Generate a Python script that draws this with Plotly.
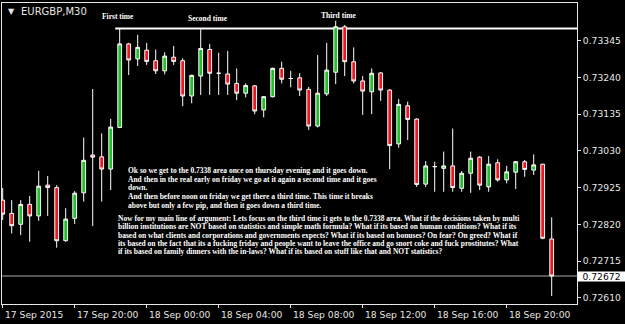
import plotly.graph_objects as go
import pandas as pd

# ---------------- data (EURGBP, M30) ----------------
bar_start = "2015-09-17 16:00"
opens = [0.72889, 0.72851, 0.72820, 0.72877, 0.72844, 0.72932, 0.72925, 0.72773, 0.72837, 0.72910,
         0.73018, 0.73013, 0.72978, 0.73097, 0.73336, 0.73293, 0.73318, 0.73288, 0.73259, 0.73298,
         0.73288, 0.73187, 0.73244, 0.73320, 0.73252, 0.73250, 0.73223, 0.73195, 0.73216, 0.73147,
         0.73185, 0.73266, 0.73237, 0.73239, 0.73206, 0.73101, 0.73193, 0.73255, 0.73385, 0.73285,
         0.73230, 0.73199, 0.73253, 0.73204, 0.73050, 0.73159, 0.73121, 0.72935, 0.72985, 0.72980,
         0.72987, 0.72923, 0.72966, 0.73012, 0.72927, 0.72996, 0.72947, 0.72969, 0.72999, 0.72975,
         0.72992, 0.72778]
highs = [0.72924, 0.72889, 0.72889, 0.72901, 0.72973, 0.72958, 0.72932, 0.72866, 0.72915, 0.73068,
         0.73207, 0.73080, 0.73122, 0.73380, 0.73339, 0.73362, 0.73339, 0.73320, 0.73312, 0.73330,
         0.73295, 0.73248, 0.73378, 0.73336, 0.73311, 0.73316, 0.73266, 0.73223, 0.73218, 0.73187,
         0.73268, 0.73285, 0.73259, 0.73252, 0.73213, 0.73304, 0.73339, 0.73402, 0.73390, 0.73326,
         0.73244, 0.73266, 0.73255, 0.73206, 0.73178, 0.73171, 0.73123, 0.73001, 0.72999, 0.73028,
         0.73094, 0.72972, 0.73028, 0.73015, 0.73015, 0.73006, 0.72987, 0.73001, 0.73004, 0.73020,
         0.72993, 0.72840]
lows = [0.72832, 0.72794, 0.72789, 0.72770, 0.72830, 0.72844, 0.72753, 0.72770, 0.72821, 0.72885,
        0.72815, 0.72885, 0.72918, 0.73095, 0.73247, 0.73273, 0.73276, 0.73250, 0.73249, 0.73276,
        0.73158, 0.73166, 0.73190, 0.73190, 0.73190, 0.73190, 0.73175, 0.73183, 0.73135, 0.73126,
        0.73183, 0.73223, 0.73212, 0.73187, 0.73090, 0.73097, 0.73187, 0.73221, 0.73244, 0.73223,
        0.73133, 0.73135, 0.73173, 0.72978, 0.73039, 0.73061, 0.72927, 0.72927, 0.72913, 0.72913,
        0.72913, 0.72913, 0.72910, 0.72918, 0.72913, 0.72942, 0.72937, 0.72921, 0.72956, 0.72961,
        0.72777, 0.72615]
closes = [0.72849, 0.72816, 0.72877, 0.72844, 0.72929, 0.72925, 0.72773, 0.72835, 0.72909, 0.73003,
          0.73012, 0.72978, 0.73098, 0.73336, 0.73290, 0.73326, 0.73286, 0.73259, 0.73301, 0.73286,
          0.73187, 0.73246, 0.73323, 0.73252, 0.73252, 0.73221, 0.73195, 0.73217, 0.73144, 0.73185,
          0.73266, 0.73235, 0.73237, 0.73204, 0.73101, 0.73195, 0.73261, 0.73385, 0.73285, 0.73230,
          0.73201, 0.73252, 0.73204, 0.73045, 0.73163, 0.73120, 0.72934, 0.72987, 0.72985, 0.72987,
          0.72925, 0.72966, 0.73009, 0.72932, 0.72992, 0.72947, 0.72970, 0.72999, 0.72977, 0.72990,
          0.72780, 0.72672]

x_tick_times = ["2015-09-17 16:00", "2015-09-17 20:00", "2015-09-18 00:00", "2015-09-18 04:00",
                "2015-09-18 08:00", "2015-09-18 12:00", "2015-09-18 16:00", "2015-09-18 20:00"]
x_tick_labels = ["17 Sep 2015", "17 Sep 20:00", "18 Sep 00:00", "18 Sep 04:00",
                 "18 Sep 08:00", "18 Sep 12:00", "18 Sep 16:00", "18 Sep 20:00"]
y_ticks = [0.72610, 0.72715, 0.72820, 0.72925, 0.73030, 0.73135, 0.73240, 0.73345]

resistance_level = 0.7338
resistance_from = "2015-09-17 22:15"
current_price = 0.72672

x_range = ["2015-09-17 15:57:40", "2015-09-18 23:54:20"]
y_range = [0.72592, 0.73453]

title_text = "EURGBP,M30"
event_labels = ["First time", "Second time", "Third time"]
para1 = [
    "Ok so we get to the 0.7338 area once on thursday evening and it goes down.",
    "And then in the real early on friday we go at it again a second time and it goes",
    "down.",
    "And then before noon on friday we get there a third time. This time it breaks",
    "above but only a few pip, and then it goes down a third time.",
]
para2 = [
    "Now for my main line of argument: Lets focus on the third time it gets to the 0.7338 area. What if the decisions taken by multi",
    "billion institutions are NOT based on statistics and simple math formula? What if its based on human conditions? What if its",
    "based on what clients and corporations and governments expects? What if its based on bonuses? On fear? On greed? What if",
    "its based on the fact that its a fucking friday and people want to leave the office and go snort coke and fuck prostitutes? What",
    "if its based on family dinners with the in-laws? What if its based on stuff like that and NOT statistics?",
]

# ---------------- layout helpers ----------------
W, H = 625, 324
L, R, T, B = 2, 577, 3, 304


def px(x):
    return (x - L) / (R - L)


def py(y):
    return (B - y) / (B - T)


FG = "#e6e6e6"
GREEN = "#20c02a"
RED = "#ec1620"
AXFONT = dict(family="DejaVu Sans", size=9.2, color=FG)
SERIF = dict(family="Liberation Serif", size=7.5, color="white")

times = pd.date_range(bar_start, periods=len(opens), freq="30min")

fig = go.Figure(go.Candlestick(
    x=times, open=opens, high=highs, low=lows, close=closes,
    increasing=dict(line=dict(color="white", width=1), fillcolor=GREEN),
    decreasing=dict(line=dict(color="white", width=1), fillcolor=RED),
    whiskerwidth=0, hoverinfo="skip",
))

shapes = [
    dict(type="line", xref="x", yref="y", x0=resistance_from, x1=x_range[1],
         y0=resistance_level, y1=resistance_level, line=dict(color="white", width=2), layer="below"),
    dict(type="line", xref="x", yref="y", x0=x_range[0], x1=x_range[1],
         y0=current_price, y1=current_price, line=dict(color="#a8a8a8", width=1), layer="below"),
]

ann = []
# title
ann.append(dict(text="▼", x=px(5.5), y=py(11.5), xref="paper", yref="paper", xanchor="left",
                yanchor="middle", showarrow=False, font=dict(family="DejaVu Sans", size=8, color=FG)))
ann.append(dict(text=title_text, x=px(19), y=py(11.5), xref="paper", yref="paper", xanchor="left",
                yanchor="middle", showarrow=False, font=dict(family="DejaVu Sans", size=10, color=FG)))
# event labels
for lab, (ex, ey) in zip(event_labels, [(117.5, 17), (207.5, 18.7), (338.8, 15.7)]):
    ann.append(dict(text="<b>%s</b>" % lab, x=px(ex), y=py(ey), xref="paper", yref="paper",
                    xanchor="center", yanchor="middle", showarrow=False, font=SERIF))
# paragraphs
for i, line in enumerate(para1):
    ann.append(dict(text="<b>%s</b>" % line, x=px(125.7), y=py(170.7 + 8.6 * i), xref="paper",
                    yref="paper", xanchor="left", yanchor="middle", showarrow=False, font=SERIF))
for i, line in enumerate(para2):
    ann.append(dict(text="<b>%s</b>" % line, x=px(116), y=py(218.3 + 8.4 * i), xref="paper",
                    yref="paper", xanchor="left", yanchor="middle", showarrow=False, font=SERIF))
# x tick labels (left aligned at the tick, MT4 style)
for t, lab in zip(x_tick_times, x_tick_labels):
    ann.append(dict(text=lab, x=t, y=py(314.5), xref="x", yref="paper", xanchor="left",
                    yanchor="middle", showarrow=False, font=AXFONT))
# current price box
ann.append(dict(text="%.5f" % current_price, x=1, y=current_price, xref="paper", yref="y",
                xanchor="left", yanchor="middle", showarrow=False, bgcolor="white",
                width=47, height=9, align="center", borderpad=0,
                font=dict(family="DejaVu Sans", size=9.2, color="black")))

fig.update_layout(
    width=W, height=H,
    margin=dict(l=L, r=W - R, t=T, b=H - B, pad=0),
    paper_bgcolor="black", plot_bgcolor="black",
    showlegend=False, boxgap=0.4,
    shapes=shapes, annotations=ann,
    xaxis=dict(type="date", range=x_range, rangeslider=dict(visible=False),
               showgrid=False, zeroline=False, showline=True, mirror=True,
               linecolor=FG, linewidth=1, ticks="outside", ticklen=3, tickcolor=FG,
               tickvals=x_tick_times, showticklabels=False, fixedrange=True),
    yaxis=dict(side="right", range=y_range, tickvals=y_ticks, tickformat=".5f",
               showgrid=False, zeroline=False, showline=True, mirror=True,
               linecolor=FG, linewidth=1, ticks="outside", ticklen=3, tickcolor=FG,
               tickfont=AXFONT, fixedrange=True),
)

fig.write_html("out.html")
